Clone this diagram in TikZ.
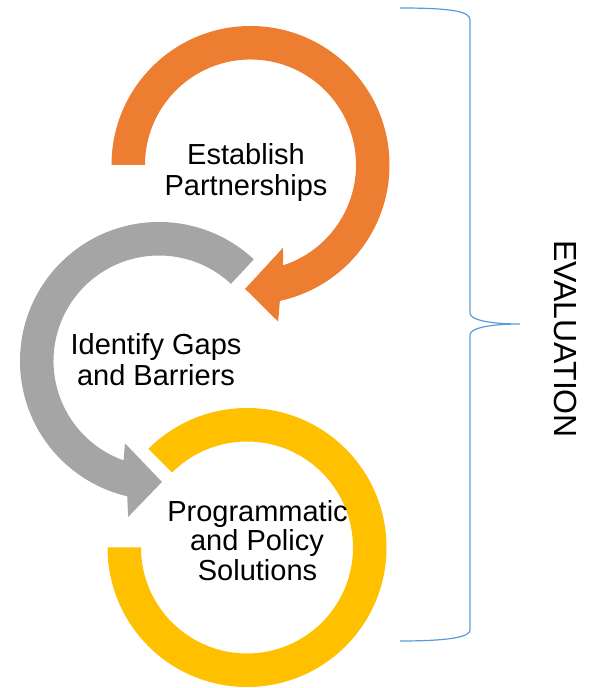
\documentclass[tikz,border=0pt]{standalone}
\usepackage{fontspec}
\setmainfont{Liberation Sans}
\usetikzlibrary{calc}
\definecolor{orangec}{HTML}{ED7D31}
\definecolor{grayc}{HTML}{A5A5A5}
\definecolor{yellowc}{HTML}{FFC000}
\definecolor{bracec}{HTML}{5B9BD5}
\tikzset{
  lbl/.style={anchor=base, inner sep=0pt, font=\fontsize{29}{32}\selectfont, text=black},
  evallbl/.style={inner sep=0pt, font=\fontsize{32}{36}\selectfont, text=black, rotate=-90},
  bracestyle/.style={draw=bracec, line width=1.2pt}
}
\begin{document}
\begin{tikzpicture}[x=1pt,y=1pt]
\useasboundingbox (0,0) rectangle (591,688);
\coordinate (O1) at (250.5,523);
\coordinate (O2) at (159,327);
\coordinate (O3) at (247,140.5);
% yellow ring
\fill[yellowc] ($(O3)+(135:139.5)$) arc[start angle=135, end angle=-180, radius=139.5]
  -- ($(O3)+(180:106)$) arc[start angle=-180, end angle=135, radius=106] -- cycle;
% gray arrow
\fill[grayc] ($(O2)+(47:139)$) arc[start angle=47, end angle=256.8, radius=139]
  -- ($(O2)+(258.8:159)$) -- ($(O2)+(271.4:121)$) -- ($(O2)+(247.5:89)$)
  -- ($(O2)+(250.4:105.5)$) arc[start angle=250.4, end angle=47, radius=105.5] -- cycle;
% orange arrow
\fill[orangec] ($(O1)+(180:139)$) arc[start angle=180, end angle=-77.8, radius=139]
  -- ($(O1)+(-80:159)$) -- ($(O1)+(-92.5:124)$) -- ($(O1)+(-68.6:89)$)
  -- ($(O1)+(-72:105.5)$) arc[start angle=-72, end angle=180, radius=105.5] -- cycle;
% texts
\node[lbl] (est1) at (246,523) {Establish};
\node[lbl] (est2) at (246,492) {Partnerships};
\node[lbl] (gap1) at (156,333) {Identify Gaps};
\node[lbl] (gap2) at (156,302) {and Barriers};
\node[lbl] (sol1) at (257.5,166) {Programmatic};
\node[lbl] (sol2) at (257,137) {and Policy};
\node[lbl] (sol3) at (257.5,107) {Solutions};
\node[evallbl] (eval) at (566,349) {EVALUATION};
% brace
\coordinate (bt) at (400,680);
\coordinate (bm) at (520,364);
\coordinate (bb) at (400,47);
\draw[bracestyle] (bt) .. controls (455,680) and (470,676) .. (470,668)
  -- (470,375) .. controls (470,368) and (490,364) .. (bm)
  .. controls (490,364) and (470,360) .. (470,353)
  -- (470,58) .. controls (470,52) and (455,47) .. (bb);
\end{tikzpicture}
\end{document}
